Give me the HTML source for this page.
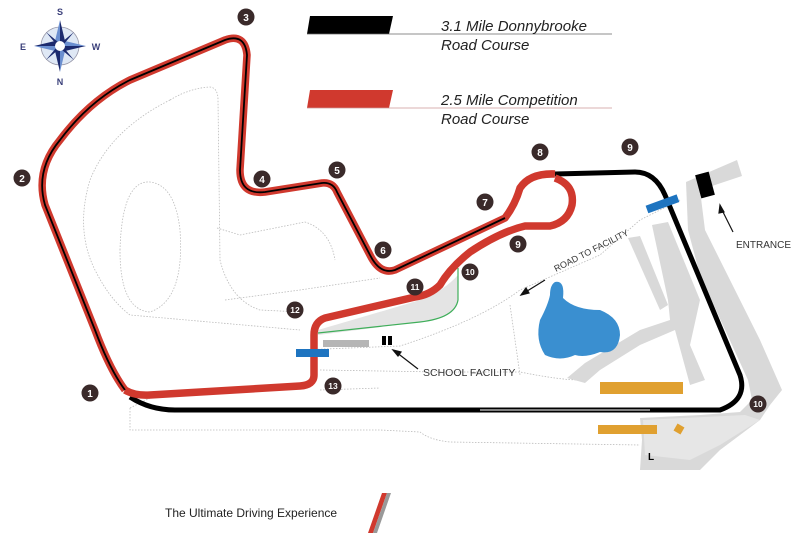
<!DOCTYPE html>
<html><head><meta charset="utf-8"><style>
html,body{margin:0;padding:0;background:#fff}
svg{display:block}
text{font-family:"Liberation Sans",sans-serif}
</style></head><body>
<svg width="800" height="533" viewBox="0 0 800 533" xmlns="http://www.w3.org/2000/svg">
<g fill="none" stroke="#bbb" stroke-width="0.8" stroke-dasharray="1.5,1.5">
<path d="M170,100 Q190,88 210,87 Q218,88 218,100 L220,260 Q230,300 260,310 L300,312"/>
<path d="M170,100 Q110,130 90,180 Q75,230 95,270 Q110,300 130,315 L300,330"/>
<path d="M120,250 Q122,180 150,182 Q175,185 180,230 Q185,300 150,312 Q120,310 120,250"/>
<path d="M217,228 L240,235 L305,222 Q330,230 335,260"/>
<path d="M225,300 L300,290 L380,278"/>
<path d="M130,408 L130,430 L380,430 L420,432 Q430,440 450,442 L640,445"/>
<path d="M130,408 L150,398"/>
<path d="M320,370 L440,372 L520,372 Q560,380 580,380"/>
<path d="M300,350 L400,346 Q480,320 520,290 L600,255 L640,220 L680,200"/>
<path d="M510,305 L520,375"/>
<path d="M320,390 L380,388"/>
</g>
<g fill="#d9d9d9">
<path d="M686,182 L737,160 L742,176 L700,190 L705,230 L760,340 L782,390 L770,405 L760,420 L720,450 L700,470 L640,470 L642,440 L640,418 L700,415 L740,412 L752,400 L748,380 L700,275 L688,230 Z"/>
<path d="M652,225 L668,222 L700,300 L690,345 L705,380 L690,385 L675,330 L640,345 L600,370 L585,383 L567,378 L585,363 L640,330 L670,320 L668,300 Z"/>
<path d="M628,238 L640,236 L668,305 L660,310 Z"/>
</g>
<path d="M643,420 L745,415 L760,420 L720,445 L690,460 L645,455 Z" fill="#e6e6e6"/>
<path d="M318,330 Q380,312 420,300 Q445,290 458,275 L458,300 Q455,318 420,322 L318,335 Z" fill="#e4e4e4"/>
<path d="M458,268 L458,300 Q455,318 420,322 L318,333" fill="none" stroke="#3fae5a" stroke-width="1.2"/>
<rect x="323" y="340" width="46" height="7" fill="#b5b5b5"/>
<rect x="382" y="336" width="4" height="9" fill="#000"/><rect x="388" y="336" width="4" height="9" fill="#000"/>
<path d="M555,282 Q565,280 563,298 Q575,310 600,310 Q620,318 620,335 Q618,355 600,352 Q585,358 575,355 Q560,362 545,355 Q535,340 540,320 Q548,305 550,295 Q550,285 555,282 Z" fill="#3a8fd0"/>
<rect x="600" y="382" width="83" height="12" fill="#e0a030"/>
<rect x="598" y="425" width="59" height="9" fill="#e0a030"/>
<rect x="675" y="425" width="8" height="8" fill="#e0a030" transform="rotate(30 679 429)"/>
<rect x="698" y="173" width="14" height="24" fill="#000" transform="rotate(-15 705 185)"/>
<path d="M555,174 L635,172 Q655,172 665,195 L740,375 Q748,400 720,410 L175,410 Q150,410 130,397" fill="none" stroke="#000" stroke-width="5"/>
<path d="M480,410 L650,410" stroke="#fff" stroke-width="1" fill="none"/>
<path d="M555,178 Q575,185 572,205 Q568,222 550,226 L525,226 Q500,232 470,252 Q450,268 440,285 Q430,295 415,297 L325,318 Q314,322 314,335 L314,375 Q314,385 300,386 L150,395 Q135,396 125,390" fill="none" stroke="#d0392e" stroke-width="7.5" stroke-linejoin="round"/>
<path d="M125,390 Q110,370 95,330 L45,205 Q35,170 60,140 Q90,100 130,80 L225,40 Q245,33 247,55 L240,170 Q240,195 265,192 L322,183 Q333,182 337,192 L370,255 Q380,275 395,270 L505,218 Q515,205 520,188 Q530,173 555,174" fill="none" stroke="#d0392e" stroke-width="7.5" stroke-linejoin="round"/>
<path d="M125,390 Q110,370 95,330 L45,205 Q35,170 60,140 Q90,100 130,80 L225,40 Q245,33 247,55 L240,170 Q240,195 265,192 L322,183 Q333,182 337,192 L370,255 Q380,275 395,270 L505,218" fill="none" stroke="#000" stroke-width="1.8"/>
<rect x="296" y="349" width="33" height="8" fill="#1e74c0"/>
<rect x="646" y="200" width="33" height="8" fill="#1e74c0" transform="rotate(-20 662 204)"/>
<g stroke="#111" stroke-width="1.2" fill="#111">
<line x1="418" y1="369" x2="396" y2="352"/><path d="M393,350 L401,352 L398,356 Z"/>
<line x1="545" y1="280" x2="524" y2="293"/><path d="M521,295 L526,288 L529,293 Z"/>
<line x1="733" y1="232" x2="721" y2="208"/><path d="M720,205 L724,212 L719,213 Z"/>
</g>
<text x="423" y="376" font-size="10.5" fill="#333">SCHOOL FACILITY</text>
<text x="736" y="248" font-size="10" fill="#333">ENTRANCE</text>
<text x="556" y="272" font-size="9" fill="#333" transform="rotate(-27 556 272)">ROAD TO FACILITY</text>
<text x="648" y="460" font-size="10" font-weight="bold" fill="#000">L</text>
<g font-size="10" font-weight="bold" fill="#fff" text-anchor="middle">
<g fill="#3a2a2a">
<circle cx="246" cy="17" r="8.5"/><circle cx="22" cy="178" r="8.5"/><circle cx="262" cy="179" r="8.5"/>
<circle cx="337" cy="170" r="8.5"/><circle cx="383" cy="250" r="8.5"/><circle cx="485" cy="202" r="8.5"/>
<circle cx="540" cy="152" r="8.5"/><circle cx="630" cy="147" r="8.5"/><circle cx="518" cy="244" r="8.5"/>
<circle cx="470" cy="272" r="8.5"/><circle cx="415" cy="287" r="8.5"/><circle cx="295" cy="310" r="8.5"/>
<circle cx="333" cy="386" r="8.5"/><circle cx="90" cy="393" r="8.5"/><circle cx="758" cy="404" r="8.5"/>
</g>
<text x="246" y="21">3</text><text x="22" y="182">2</text><text x="262" y="183">4</text>
<text x="337" y="174">5</text><text x="383" y="254">6</text><text x="485" y="206">7</text>
<text x="540" y="156">8</text><text x="630" y="151">9</text><text x="518" y="248">9</text>
<text x="470" y="275" font-size="8.5">10</text><text x="415" y="290" font-size="8.5">11</text><text x="295" y="313" font-size="8.5">12</text>
<text x="333" y="389" font-size="8.5">13</text><text x="90" y="397">1</text><text x="758" y="407" font-size="8.5">10</text>
</g>
<path d="M310,16 L393,16 L389,34 L307,34 Z" fill="#000"/>
<line x1="307" y1="34" x2="612" y2="34" stroke="#666" stroke-width="0.8"/>
<text x="441" y="31" font-size="15" font-style="italic" fill="#222">3.1 Mile Donnybrooke</text>
<text x="441" y="50" font-size="15" font-style="italic" fill="#222">Road Course</text>
<path d="M310,90 L393,90 L389,108 L307,108 Z" fill="#d0392e"/>
<line x1="307" y1="108" x2="612" y2="108" stroke="#c99" stroke-width="0.8"/>
<text x="441" y="105" font-size="15" font-style="italic" fill="#222">2.5 Mile Competition</text>
<text x="441" y="124" font-size="15" font-style="italic" fill="#222">Road Course</text>
<g transform="translate(60,46)">
<circle r="19" fill="#dfe8f5" stroke="#99a" stroke-width="0.8"/>
<path d="M0,-26 L5,-5 L0,0 Z M0,26 L-5,5 L0,0 Z M-26,0 L-5,-5 L0,0 Z M26,0 L5,5 L0,0 Z" fill="#1c2a6e"/>
<path d="M0,-26 L-5,-5 L0,0 Z M0,26 L5,5 L0,0 Z M-26,0 L-5,5 L0,0 Z M26,0 L5,-5 L0,0 Z" fill="#6b8fd0"/>
<path d="M-14,-14 L-2,-4 L-4,-2 Z M14,14 L2,4 L4,2 Z M14,-14 L4,-2 L2,-4 Z M-14,14 L-4,2 L-2,4 Z" fill="#1c2a6e"/>
<circle r="5" fill="#fff"/>
<g font-size="9" font-weight="bold" fill="#3a3f7a" text-anchor="middle">
<text x="0" y="-31">S</text><text x="0" y="39">N</text><text x="-37" y="4">E</text><text x="36" y="4">W</text>
</g>
</g>
<text x="165" y="517" font-size="12" fill="#222">The Ultimate Driving Experience</text>
<path d="M382,493 L387,493 L373,533 L368,533 Z" fill="#d0392e"/>
<path d="M387,493 L391,493 L377,533 L373,533 Z" fill="#999"/>
</svg>
</body></html>
